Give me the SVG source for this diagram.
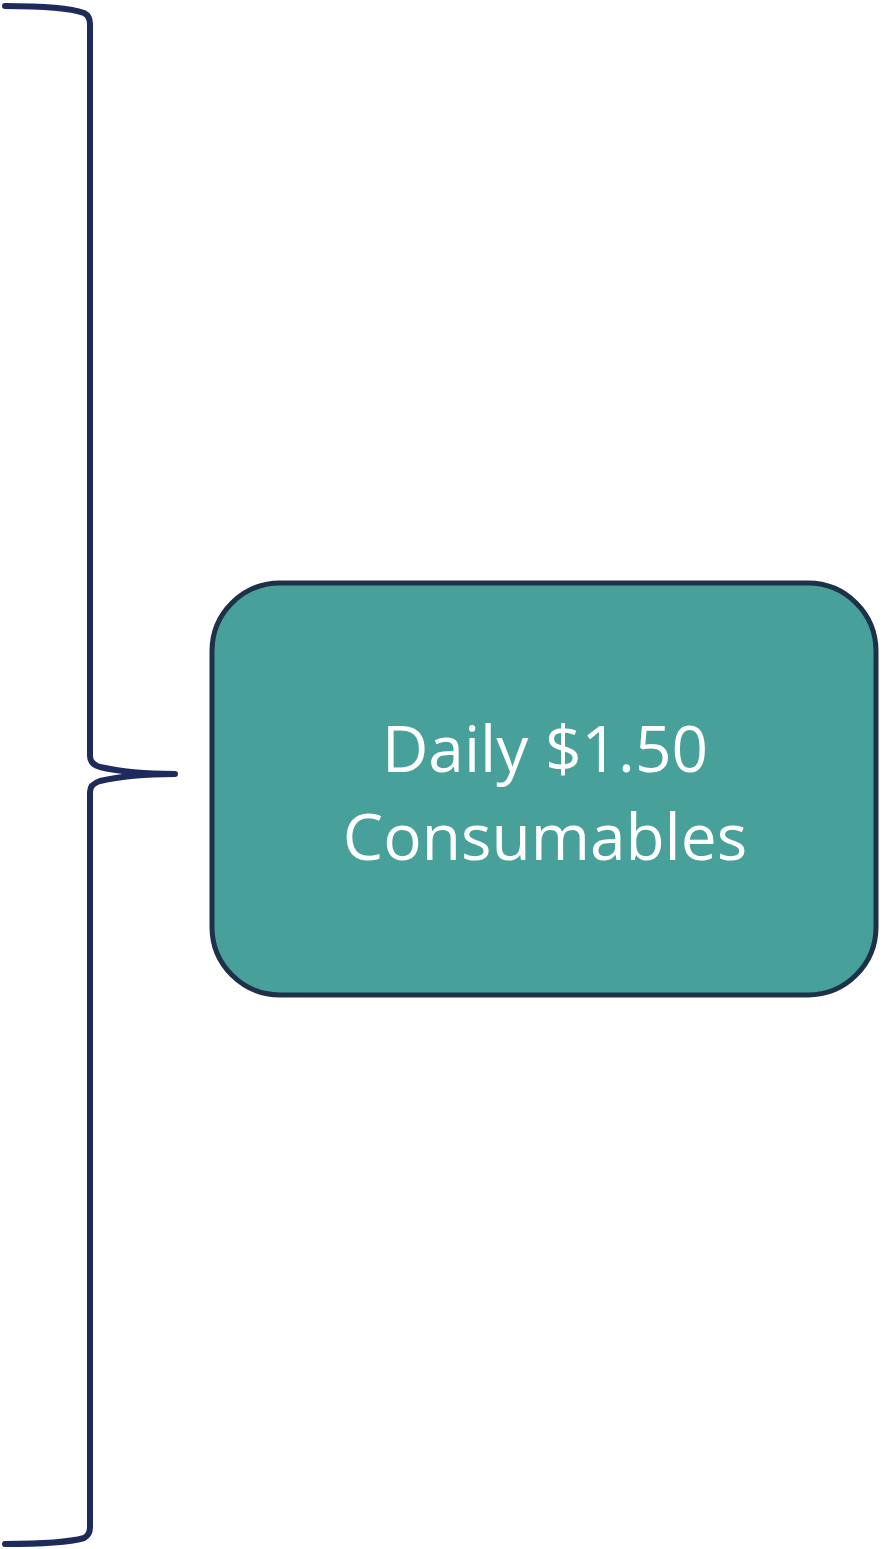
<svg xmlns="http://www.w3.org/2000/svg" width="883" height="1549" viewBox="0 0 883 1549">
<style>
.brace{fill:none;stroke:#1F2A5C;stroke-width:6;stroke-linecap:round;stroke-linejoin:round}
.box{fill:#48A09A;stroke:#1E3149;stroke-width:5}
.lbl{font-family:"Open Sans","Liberation Sans",sans-serif;font-size:64px;fill:#FFFFFF;text-anchor:middle}
</style>
<g id="brace">
<path class="brace" d="M5,6 C40,6 70,8 84,13 Q90,16 90,24 L90,756 Q90,764 100,767 Q130,774 175,774 Q130,774 100,781 Q90,784 90,792 L90,1527 Q90,1535 84,1538 C70,1542 40,1544 5,1544"/>
</g>
<g id="node1">
<rect class="box" x="212" y="583" width="664" height="412" rx="68" ry="68"/>
<text class="lbl" x="545" y="772">Daily $1.50</text>
<text class="lbl" x="545" y="860">Consumables</text>
</g>
</svg>
